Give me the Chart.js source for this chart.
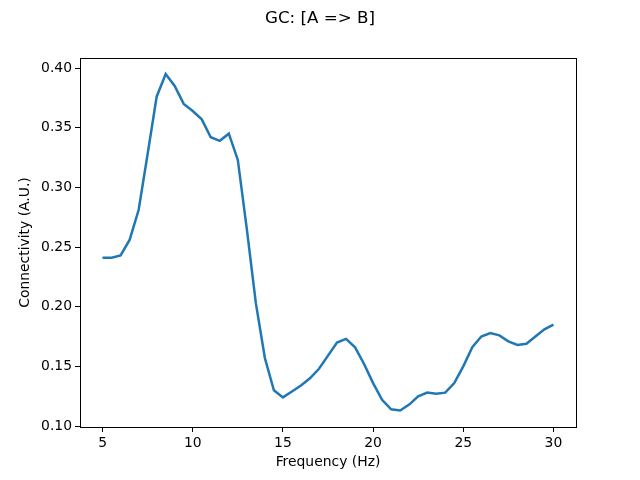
<!DOCTYPE html>
<html>
<head>
<meta charset="utf-8">
<script src="https://cdn.jsdelivr.net/npm/chart.js@4/dist/chart.umd.min.js"></script>
<style>
  html, body { margin: 0; padding: 0; background: #fff; }
  #wrap { width: 640px; height: 480px; }
</style>
</head>
<body>
<div id="wrap"><canvas id="myChart" width="640" height="480"></canvas></div>
<script>
// frequencies (Hz), 0.5 Hz step
var freqs = [5, 5.5, 6, 6.5, 7, 7.5, 8, 8.5, 9, 9.5, 10, 10.5, 11, 11.5, 12, 12.5, 13, 13.5, 14, 14.5,
  15, 15.5, 16, 16.5, 17, 17.5, 18, 18.5, 19, 19.5, 20, 20.5, 21, 21.5, 22, 22.5, 23, 23.5, 24, 24.5,
  25, 25.5, 26, 26.5, 27, 27.5, 28, 28.5, 29, 29.5, 30];
var gcValues = [0.241, 0.241, 0.243, 0.256, 0.281, 0.328, 0.376, 0.395, 0.385, 0.370, 0.364, 0.357, 0.342, 0.339, 0.345, 0.323,
  0.265, 0.203, 0.157, 0.130, 0.124, 0.129, 0.134, 0.140, 0.148, 0.159, 0.170, 0.173, 0.166, 0.152,
  0.136, 0.122, 0.114, 0.113, 0.118, 0.125, 0.128, 0.127, 0.128, 0.136, 0.150, 0.166, 0.175, 0.178,
  0.176, 0.171, 0.168, 0.169, 0.175, 0.181, 0.185];
var xTicks = [5, 10, 15, 20, 25, 30];
var yTicks = [0.10, 0.15, 0.20, 0.25, 0.30, 0.35, 0.40];

var FONT = 'DejaVu Sans';

// box around the plot area (matplotlib spines)
var frame = {
  id: 'frame',
  afterDatasetsDraw: function (chart) {
    var a = chart.chartArea, ctx = chart.ctx;
    ctx.save();
    ctx.strokeStyle = '#000';
    ctx.lineWidth = 1;
    ctx.strokeRect(Math.round(a.left) + 0.5, Math.round(a.top) + 0.5,
      Math.round(a.right - a.left), Math.round(a.bottom - a.top));
    ctx.restore();
  }
};

var points = freqs.map(function (f, i) { return { x: f, y: gcValues[i] }; });

new Chart(document.getElementById('myChart').getContext('2d'), {
  type: 'line',
  data: {
    datasets: [{
      data: points,
      borderColor: '#1f77b4',
      borderWidth: 2.5,
      pointRadius: 0,
      fill: false,
      tension: 0
    }]
  },
  options: {
    responsive: false,
    animation: false,
    events: [],
    layout: { padding: 0 },
    plugins: {
      legend: { display: false },
      tooltip: { enabled: false },
      title: {
        display: true,
        text: 'GC: [A => B]',
        color: '#000',
        font: { family: FONT, size: 16.7, weight: 'normal' },
        padding: { top: 9, bottom: 29 }
      }
    },
    scales: {
      x: {
        type: 'linear',
        min: 3.75,
        max: 31.25,
        afterBuildTicks: function (axis) { axis.ticks = xTicks.map(function (v) { return { value: v }; }); },
        afterFit: function (s) { s.height = 53; },
        grid: { drawOnChartArea: false, drawTicks: true, tickLength: 5, color: '#000' },
        border: { display: true, color: '#000' },
        ticks: { color: '#000', padding: 3, maxRotation: 0, font: { family: FONT, size: 13.9 } },
        title: { display: true, text: 'Frequency (Hz)', color: '#000', font: { family: FONT, size: 13.9 }, padding: { top: 0, bottom: 9 } }
      },
      y: {
        min: 0.0992,
        max: 0.4084,
        afterBuildTicks: function (axis) { axis.ticks = yTicks.map(function (v) { return { value: v }; }); },
        afterFit: function (s) { s.width = 80; },
        grid: { drawOnChartArea: false, drawTicks: true, tickLength: 5, color: '#000' },
        border: { display: true, color: '#000' },
        ticks: {
          color: '#000', padding: 3, font: { family: FONT, size: 13.9 },
          callback: function (v) { return v.toFixed(2); }
        },
        title: { display: true, text: 'Connectivity (A.U.)', color: '#000', font: { family: FONT, size: 13.9 }, padding: { top: 17, bottom: 0 } }
      },
      // empty right-hand axis, only reserves the right margin
      yRight: {
        position: 'right',
        min: 0,
        max: 1,
        afterFit: function (s) { s.width = 64; },
        grid: { display: false },
        border: { display: false },
        ticks: { display: false }
      }
    }
  },
  plugins: [frame]
});
</script>
</body>
</html>
